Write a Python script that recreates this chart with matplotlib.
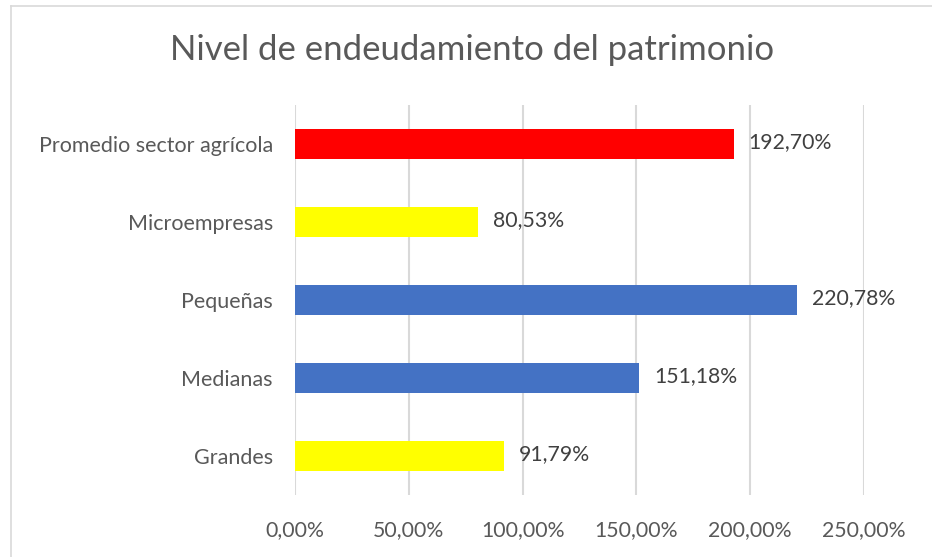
import numpy as np
import matplotlib.pyplot as plt
from matplotlib.lines import Line2D

# data (bottom to top)
categories = ["Grandes", "Medianas", "Pequeñas", "Microempresas", "Promedio sector agrícola"]
values = [91.79, 151.18, 220.78, 80.53, 192.70]
colors = ["#FFFF00", "#4472C4", "#4472C4", "#FFFF00", "#FF0000"]
xticks = [0, 50, 100, 150, 200, 250]

text_color = "#595959"
plt.rcParams['font.family'] = ['Lato', 'DejaVu Sans']

fig = plt.figure(figsize=(9.32, 5.57), dpi=100)
ax = fig.add_axes([295 / 932, 1 - 495 / 557, 569 / 932, 390 / 557])

y = np.arange(len(categories))
ax.barh(y, values, height=0.385, color=colors, zorder=3)

for yi, v in zip(y, values):
    label = f"{v:.2f}%".replace(".", ",")
    ax.text(v + 6.5, yi + 0.02, label, va="center", ha="left", fontsize=15.3,
            color="#404040", zorder=4)

ax.set_xlim(0, 250)
ax.set_ylim(-0.5, 4.5)
ax.set_xticks(xticks)
ax.set_xticklabels([f"{t:.2f}%".replace(".", ",") for t in xticks],
                   fontsize=15.3, color=text_color)
ax.set_yticks(y)
ax.set_yticklabels(categories, fontsize=15.5, color=text_color)
ax.tick_params(axis="both", length=0)
ax.tick_params(axis="x", pad=18)
ax.tick_params(axis="y", pad=16)
ax.grid(axis="x", color="#D9D9D9", linewidth=1.5, zorder=0)
for s in ax.spines.values():
    s.set_visible(False)

fig.text(472 / 932, 1 - 50 / 557, "Nivel de endeudamiento del patrimonio",
         ha="center", va="center", fontsize=25, color=text_color)

# chart border (left and top edges visible)
fig.add_artist(Line2D([10.5 / 932, 10.5 / 932], [0, 1 - 5.5 / 557],
                      transform=fig.transFigure, color="#D9D9D9", lw=1.2))
fig.add_artist(Line2D([10.5 / 932, 1], [1 - 5.5 / 557, 1 - 5.5 / 557],
                      transform=fig.transFigure, color="#D9D9D9", lw=1.2))

fig.savefig("out.png", dpi=100, facecolor="white")
